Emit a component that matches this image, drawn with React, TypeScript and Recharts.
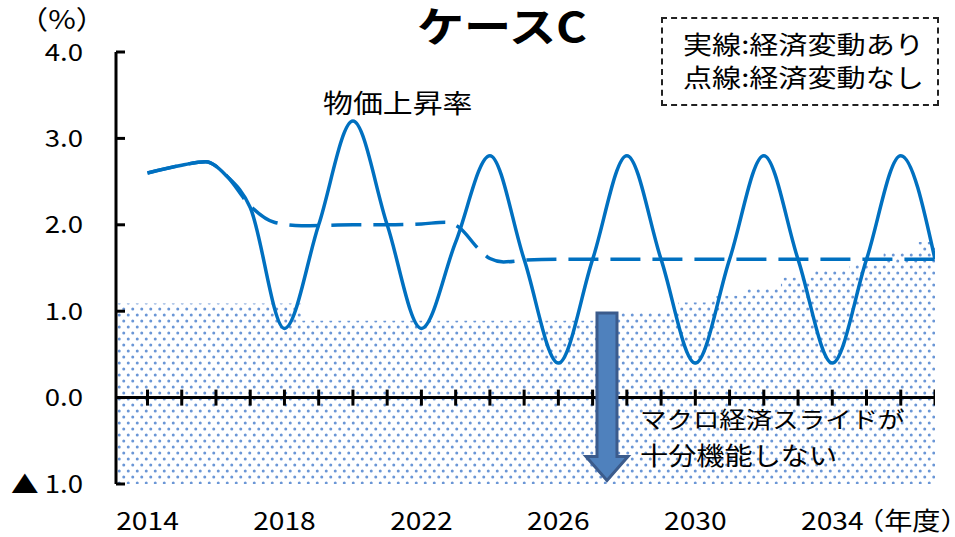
import React from 'react';
import {
  ComposedChart,
  Line,
  Area,
  XAxis,
  YAxis,
  ReferenceLine,
  Scatter,
} from 'recharts';

// ---- data ----
const xTickLabels = [2014, 2018, 2022, 2026, 2030, 2034];
const yTickValues = [-1, 0, 1, 2, 3, 4];
const zeroLineTicks = [
  2014, 2015, 2016, 2017, 2018, 2019, 2020, 2021, 2022, 2023, 2024, 2025,
  2026, 2027, 2028, 2029, 2030, 2031, 2032, 2033, 2034, 2035, 2036, 2037,
];

// 実線：経済変動あり
const withFluctuation = [
  { year: 2014, v: 2.6 },
  { year: 2015, v: 2.69 },
  { year: 2015.7, v: 2.73 },
  { year: 2016.3, v: 2.57 },
  { year: 2017, v: 2.2 },
  { year: 2018, v: 0.8 },
  { year: 2019, v: 2.0 },
  { year: 2020, v: 3.2 },
  { year: 2021, v: 2.0 },
  { year: 2022, v: 0.8 },
  { year: 2023, v: 1.8 },
  { year: 2024, v: 2.8 },
  { year: 2025, v: 1.6 },
  { year: 2026, v: 0.4 },
  { year: 2027, v: 1.6 },
  { year: 2028, v: 2.8 },
  { year: 2029, v: 1.6 },
  { year: 2030, v: 0.4 },
  { year: 2031, v: 1.6 },
  { year: 2032, v: 2.8 },
  { year: 2033, v: 1.6 },
  { year: 2034, v: 0.4 },
  { year: 2035, v: 1.6 },
  { year: 2036, v: 2.8 },
  { year: 2037, v: 1.6 },
];

// 点線：経済変動なし
const withoutFluctuation = [
  { year: 2014, v: 2.6 },
  { year: 2015, v: 2.69 },
  { year: 2015.7, v: 2.73 },
  { year: 2016.3, v: 2.57 },
  { year: 2017, v: 2.22 },
  { year: 2017.7, v: 2.03 },
  { year: 2018.5, v: 1.99 },
  { year: 2020, v: 2.0 },
  { year: 2021, v: 2.0 },
  { year: 2022, v: 2.01 },
  { year: 2022.7, v: 2.03 },
  { year: 2023.1, v: 1.97 },
  { year: 2023.65, v: 1.73 },
  { year: 2024, v: 1.61 },
  { year: 2024.4, v: 1.57 },
  { year: 2025, v: 1.59 },
  { year: 2026, v: 1.6 },
  { year: 2028, v: 1.6 },
  { year: 2030, v: 1.6 },
  { year: 2032, v: 1.6 },
  { year: 2034, v: 1.6 },
  { year: 2036, v: 1.6 },
  { year: 2037, v: 1.6 },
];

// shaded (dotted) region: マクロ経済スライドが十分機能しない範囲
const shadedTop = [
  { year: 2013.08, v: 1.09 },
  { year: 2018.5, v: 0.89 },
  { year: 2027.5, v: 0.98 },
  { year: 2029.5, v: 1.1 },
  { year: 2030.5, v: 1.18 },
  { year: 2031.5, v: 1.27 },
  { year: 2032.5, v: 1.39 },
  { year: 2033.5, v: 1.47 },
  { year: 2034.5, v: 1.55 },
  { year: 2035.5, v: 1.68 },
  { year: 2036.5, v: 1.8 },
  { year: 2037, v: 1.8 },
];

const zeroTickData = zeroLineTicks.map((year) => ({ year, v: 0 }));

// arrow annotation (data coordinates)
const arrowYear = 2027.42;
const arrowTop = 0.98;
const arrowBottom = -0.96;

const FONT = '"Noto Sans CJK JP", "Noto Sans", sans-serif';
const BLUE = '#0070C0';
const SX = 1.15; // the reference's type is horizontally wide

const YTick = (props: any) => {
  const { x, y, payload } = props;
  const v = payload.value as number;
  const label = v < 0 ? `▲ ${Math.abs(v).toFixed(1)}` : v.toFixed(1);
  return (
    <g>
      <text
        transform={`translate(${x},${y}) scale(${SX},1)`}
        x={0}
        y={0}
        dy="0.36em"
        textAnchor="end"
        fontSize={24}
        fontFamily={FONT}
        fill="#000"
      >
        {label}
      </text>
      <line x1={x + 33} x2={x + 42} y1={y} y2={y} stroke="#000" strokeWidth={3} />
    </g>
  );
};

const XTick = (props: any) => {
  const { x, y, payload } = props;
  return (
    <text
      transform={`translate(${x},${y}) scale(${SX},1)`}
      x={0}
      y={0}
      dy="0.72em"
      textAnchor="middle"
      fontSize={24.5}
      fontFamily={FONT}
      fill="#000"
    >
      {payload.value}
    </text>
  );
};

const ZeroTick = (props: any) => {
  const { cx, cy } = props;
  return <line x1={cx} x2={cx} y1={cy - 8} y2={cy + 8} stroke="#000" strokeWidth={3} />;
};

const ArrowShape = (props: any) => {
  const { x1, y1, y2 } = props;
  const x = x1;
  const top = Math.min(y1, y2);
  const bot = Math.max(y1, y2);
  const hw = 10;
  const headW = 21;
  const headL = 24;
  const yh = bot - headL;
  const d = `M${x - hw},${top} L${x + hw},${top} L${x + hw},${yh} L${x + headW},${yh} L${x},${bot} L${x - headW},${yh} L${x - hw},${yh} Z`;
  return <path d={d} fill="#4F81BD" stroke="#3B5B8C" strokeWidth={3} strokeLinejoin="miter" />;
};

const txt = (extra: React.CSSProperties, origin = 'left center'): React.CSSProperties => ({
  position: 'absolute',
  fontFamily: FONT,
  fontSize: 25,
  lineHeight: '25px',
  color: '#000',
  whiteSpace: 'nowrap',
  transform: `scaleX(${SX})`,
  transformOrigin: origin,
  ...extra,
});

export default function App() {
  return (
    <div
      style={{
        position: 'absolute',
        left: 0,
        top: 0,
        width: 955,
        height: 537,
        background: '#fff',
        overflow: 'hidden',
      }}
    >
      <svg width={0} height={0} style={{ position: 'absolute' }}>
        <defs>
          <pattern id="dots" x={0} y={0} width={9} height={12} patternUnits="userSpaceOnUse">
            <rect x={0} y={0} width={9} height={12} fill="#ffffff" />
            <circle cx={2.25} cy={3} r={1.5} fill="#6A96D6" />
            <circle cx={6.75} cy={9} r={1.5} fill="#6A96D6" />
          </pattern>
        </defs>
      </svg>

      <ComposedChart
        width={955}
        height={537}
        margin={{ top: 52, right: 20, bottom: 0, left: 115 }}
        style={{ position: 'absolute', left: 0, top: 0 }}
      >
        <XAxis
          dataKey="year"
          type="number"
          domain={[2013.08, 2037]}
          allowDataOverflow
          ticks={xTickLabels}
          axisLine={false}
          tickLine={false}
          tickSize={0}
          tickMargin={28}
          height={53}
          tick={<XTick />}
          interval={0}
        />
        <YAxis
          type="number"
          domain={[-1, 4]}
          ticks={yTickValues}
          width={1}
          tickSize={0}
          tickMargin={33}
          tickLine={false}
          axisLine={{ stroke: '#000', strokeWidth: 3 }}
          tick={<YTick />}
          interval={0}
          allowDataOverflow
        />
        <Area
          data={shadedTop}
          dataKey="v"
          type="stepAfter"
          baseValue={-1}
          stroke="none"
          fill="url(#dots)"
          fillOpacity={1}
          isAnimationActive={false}
          dot={false}
          activeDot={false}
        />
        <ReferenceLine y={0} stroke="#000" strokeWidth={3} />
        <Scatter
          data={zeroTickData}
          dataKey="v"
          shape={<ZeroTick />}
          isAnimationActive={false}
        />
        <Line
          data={withoutFluctuation}
          dataKey="v"
          type="monotone"
          stroke={BLUE}
          strokeWidth={3.5}
          strokeDasharray="30 12"
          dot={false}
          activeDot={false}
          isAnimationActive={false}
        />
        <Line
          data={withFluctuation}
          dataKey="v"
          type="monotone"
          stroke={BLUE}
          strokeWidth={3.5}
          dot={false}
          activeDot={false}
          isAnimationActive={false}
        />
        <ReferenceLine
          segment={[
            { x: arrowYear, y: arrowTop },
            { x: arrowYear, y: arrowBottom },
          ]}
          shape={<ArrowShape />}
        />
      </ComposedChart>

      {/* title */}
      <div
        style={txt(
          {
            left: 402,
            top: 4,
            width: 200,
            textAlign: 'center',
            fontSize: 41,
            lineHeight: '41px',
            fontWeight: 'bold',
          },
          'center center'
        )}
      >
        ケースC
      </div>

      {/* unit */}
      <div
        style={txt(
          { left: 12, top: 5, width: 100, textAlign: 'center', fontSize: 26, lineHeight: '26px' },
          'center center'
        )}
      >
        （%）
      </div>

      {/* year label */}
      <div style={txt({ left: 856, top: 508, fontSize: 24.5, lineHeight: '24.5px' })}>（年度）</div>

      {/* legend box */}
      <div
        style={{
          position: 'absolute',
          left: 661,
          top: 17,
          width: 274,
          height: 85,
          border: '2px dashed #222',
        }}
      />
      <div style={txt({ left: 683, top: 31, fontSize: 25.3, lineHeight: '25.3px' })}>実線:経済変動あり</div>
      <div style={txt({ left: 683, top: 64, fontSize: 25.3, lineHeight: '25.3px' })}>点線:経済変動なし</div>

      {/* annotations */}
      <div style={txt({ left: 323, top: 89, fontSize: 26, lineHeight: '26px' })}>物価上昇率</div>
      <div style={txt({ left: 640, top: 407, fontSize: 23, lineHeight: '23px' })}>マクロ経済スライドが</div>
      <div style={txt({ left: 640, top: 443, fontSize: 24.5, lineHeight: '24.5px' })}>十分機能しない</div>
    </div>
  );
}
